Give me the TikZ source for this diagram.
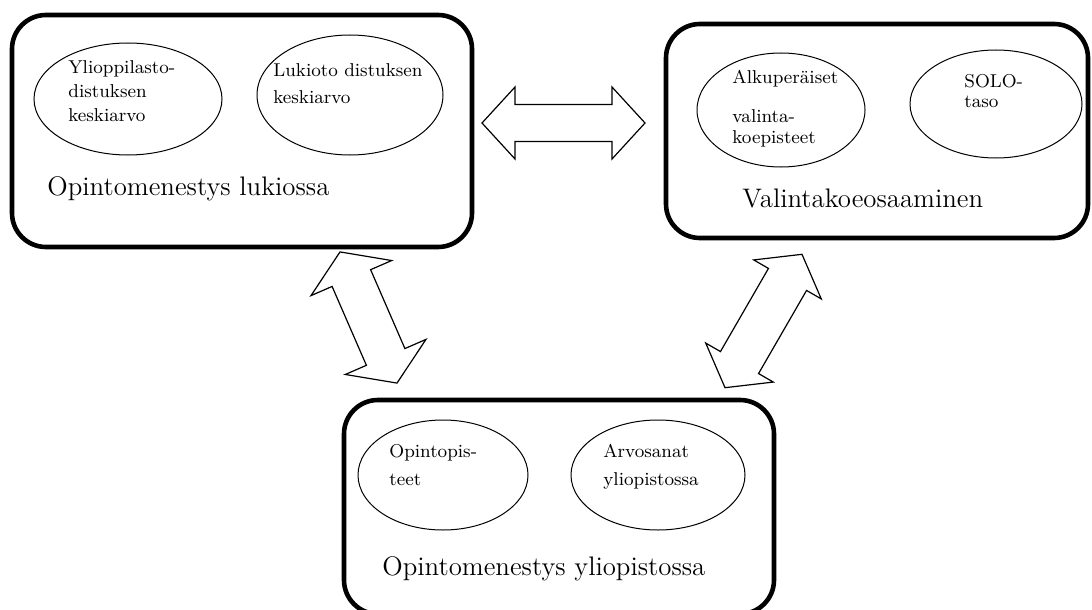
\documentclass[tikz,border=0pt]{standalone}
\usetikzlibrary{shapes.geometric}
\tikzset{
  area/.style={draw,line width=2.3pt,rounded corners=17pt,inner sep=0pt},
  blob/.style={draw,ellipse,line width=0.5pt,inner sep=0pt},
  small/.style={inner sep=0pt,align=left,anchor=north west,font=\fontsize{9.3}{12}\selectfont},
  title/.style={inner sep=0pt,anchor=base west,font=\fontsize{13.4}{16}\selectfont},
  arrowline/.style={draw,line width=0.6pt,line join=miter},
  % #1 half length, #2 head length, #3 head half width, #4 shaft half width
  pics/dblarrow/.style n args={4}{code={
    \draw[arrowline] (-#1,0) -- (-#1+#2,#3) -- (-#1+#2,#4) -- (#1-#2,#4) -- (#1-#2,#3)
      -- (#1,0) -- (#1-#2,-#3) -- (#1-#2,-#4) -- (-#1+#2,-#4) -- (-#1+#2,-#3) -- cycle;
  }}
}
\begin{document}
\begin{tikzpicture}[x=0.5pt,y=-0.5pt]
 \useasboundingbox (0,0) rectangle (1092,610);
 % upper secondary school
 \node[area,minimum width=230pt,minimum height=116pt] (lukio) at (242,131) {};
 \node[blob,minimum width=94pt,minimum height=56pt] (yo) at (128,99) {};
 \node[blob,minimum width=93pt,minimum height=60pt] (lk) at (350,95) {};
 \node[small] (yotxt) at (68,60) {Ylioppilasto-\\distuksen\\keskiarvo};
 \node[small,font=\fontsize{9.3}{13.5}\selectfont] (lktxt) at (273,63) {Lukioto distuksen\\keskiarvo};
 \node[title] (lukiotxt) at (47,195) {Opintomenestys lukiossa};
 % entrance exam
 \node[area,minimum width=211pt,minimum height=107pt] (koe) at (877,131) {};
 \node[blob,minimum width=84pt,minimum height=57pt] (alk) at (781,110) {};
 \node[blob,minimum width=86pt,minimum height=54pt] (solo) at (996,104) {};
 \node[small,font=\fontsize{9.3}{10.5}\selectfont] (alktxt) at (732,70) {Alkuper\"aiset\\[9pt]valinta-\\koepisteet};
 \node[small,font=\fontsize{9.3}{10}\selectfont] (solotxt) at (964,74) {SOLO-\\taso};
 \node[title] (koetxt) at (742,207) {Valintakoeosaaminen};
 % university
 \node[area,minimum width=215pt,minimum height=107pt] (yliop) at (559,507) {};
 \node[blob,minimum width=85pt,minimum height=55pt] (op) at (443,475) {};
 \node[blob,minimum width=87pt,minimum height=55pt] (arv) at (658,475) {};
 \node[small,font=\fontsize{9.3}{14}\selectfont] (optxt) at (389,444) {Opintopis-\\teet};
 \node[small,font=\fontsize{9.3}{14}\selectfont] (arvtxt) at (603,444) {Arvosanat\\yliopistossa};
 \node[title] (yliotxt) at (382,575) {Opintomenestys yliopistossa};
 % block arrows
 \pic at (563.5,123) {dblarrow={81.5}{33}{36}{18.5}};
 \pic[rotate=-66.5] at (368.5,317.5) {dblarrow={71.5}{28.5}{44}{21}};
 \pic[rotate=60] at (763.5,321) {dblarrow={77}{29}{39}{22}};
\end{tikzpicture}
\end{document}
